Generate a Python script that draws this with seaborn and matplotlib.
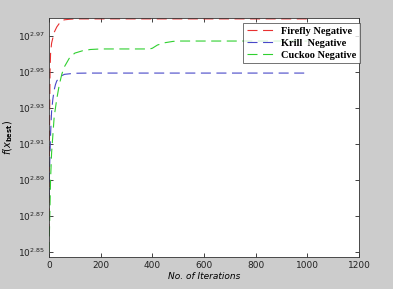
import numpy as np
import pandas as pd
import matplotlib
matplotlib.use("Agg")
import matplotlib.pyplot as plt
import seaborn as sns
from matplotlib.ticker import FixedLocator, NullLocator

# Data (exponents of 10)
firefly_iter = [0, 1, 2, 3, 4, 6, 10, 15, 20, 30, 40, 50, 60, 80, 100, 200, 1000]
firefly_exp = [2.860, 2.890, 2.915, 2.935, 2.950, 2.960, 2.966, 2.969, 2.972, 2.975, 2.977,
               2.9785, 2.979, 2.9793, 2.9795, 2.9795, 2.9795]
krill_iter = [0, 2, 4, 6, 8, 10, 15, 20, 25, 30, 40, 50, 60, 80, 100, 150, 1000]
krill_exp = [2.880, 2.895, 2.905, 2.915, 2.922, 2.928, 2.935, 2.940, 2.943, 2.945, 2.947,
             2.948, 2.9487, 2.949, 2.9493, 2.9494, 2.9494]
cuckoo_iter = [0, 3, 6, 10, 15, 20, 30, 40, 50, 60, 80, 100, 130, 160, 200, 300, 390, 400,
               420, 450, 480, 500, 1000]
cuckoo_exp = [2.850, 2.870, 2.890, 2.905, 2.915, 2.925, 2.935, 2.943, 2.949, 2.953, 2.958,
              2.9605, 2.9618, 2.9625, 2.9628, 2.9628, 2.9628, 2.9632, 2.965, 2.9663, 2.967,
              2.9672, 2.9672]
labels = ["Firefly Negative", "Krill  Negative", "Cuckoo Negative"]
colors = ["#e83030", "#4848c8", "#30d030"]
ytick_exps = [2.85, 2.87, 2.89, 2.91, 2.93, 2.95, 2.97]
xticks = [0, 200, 400, 600, 800, 1000, 1200]

fig = plt.figure(figsize=(3.93, 2.89), dpi=100, facecolor="#cccccc")
ax = fig.add_axes([49/393, 1 - 257/289, (359-49)/393, (257-18)/289])
ax.set_facecolor("white")

series = [(firefly_iter, firefly_exp), (krill_iter, krill_exp), (cuckoo_iter, cuckoo_exp)]
for (it, ex), lab, col in zip(series, labels, colors):
    df = pd.DataFrame({"iter": it, "val": 10 ** np.array(ex)})
    sns.lineplot(data=df, x="iter", y="val", ax=ax, color=col, label=lab, lw=0.8)

for ln in ax.get_lines():
    ln.set_dashes([9, 5])

ax.set_yscale("log")
ax.set_xlim(0, 1200)
ax.set_ylim(10 ** 2.8472, 10 ** 2.98)
ax.yaxis.set_major_locator(FixedLocator([10 ** e for e in ytick_exps]))
ax.yaxis.set_minor_locator(NullLocator())
ax.set_yticklabels([r"$10^{%.2f}$" % e for e in ytick_exps])
ax.set_xticks(xticks)
ax.set_xticklabels([str(v) for v in xticks])
ax.tick_params(direction="in", top=True, right=True, length=3, width=0.6,
               labelsize=6.5, colors="#222222", pad=3)
for s in ax.spines.values():
    s.set_linewidth(0.6)
    s.set_color("#333333")

ax.set_xlabel("No. of Iterations", fontsize=6.5, style="italic", labelpad=1)
ax.set_ylabel(r"$f(x_{\mathbf{best}})$", fontsize=7, labelpad=2)

leg = ax.legend(loc="upper right", bbox_to_anchor=(1.003, 0.979), frameon=True, fancybox=False,
                prop={"family": "Liberation Serif", "weight": "bold", "size": 7.5},
                handlelength=3.0, handletextpad=0.3, borderpad=0.35, labelspacing=0.25,
                borderaxespad=0)
leg.get_frame().set_edgecolor("#333333")
leg.get_frame().set_linewidth(0.6)
for h in leg.get_lines():
    h.set_dashes([9, 5])

fig.savefig("out.png", dpi=100, facecolor=fig.get_facecolor())
